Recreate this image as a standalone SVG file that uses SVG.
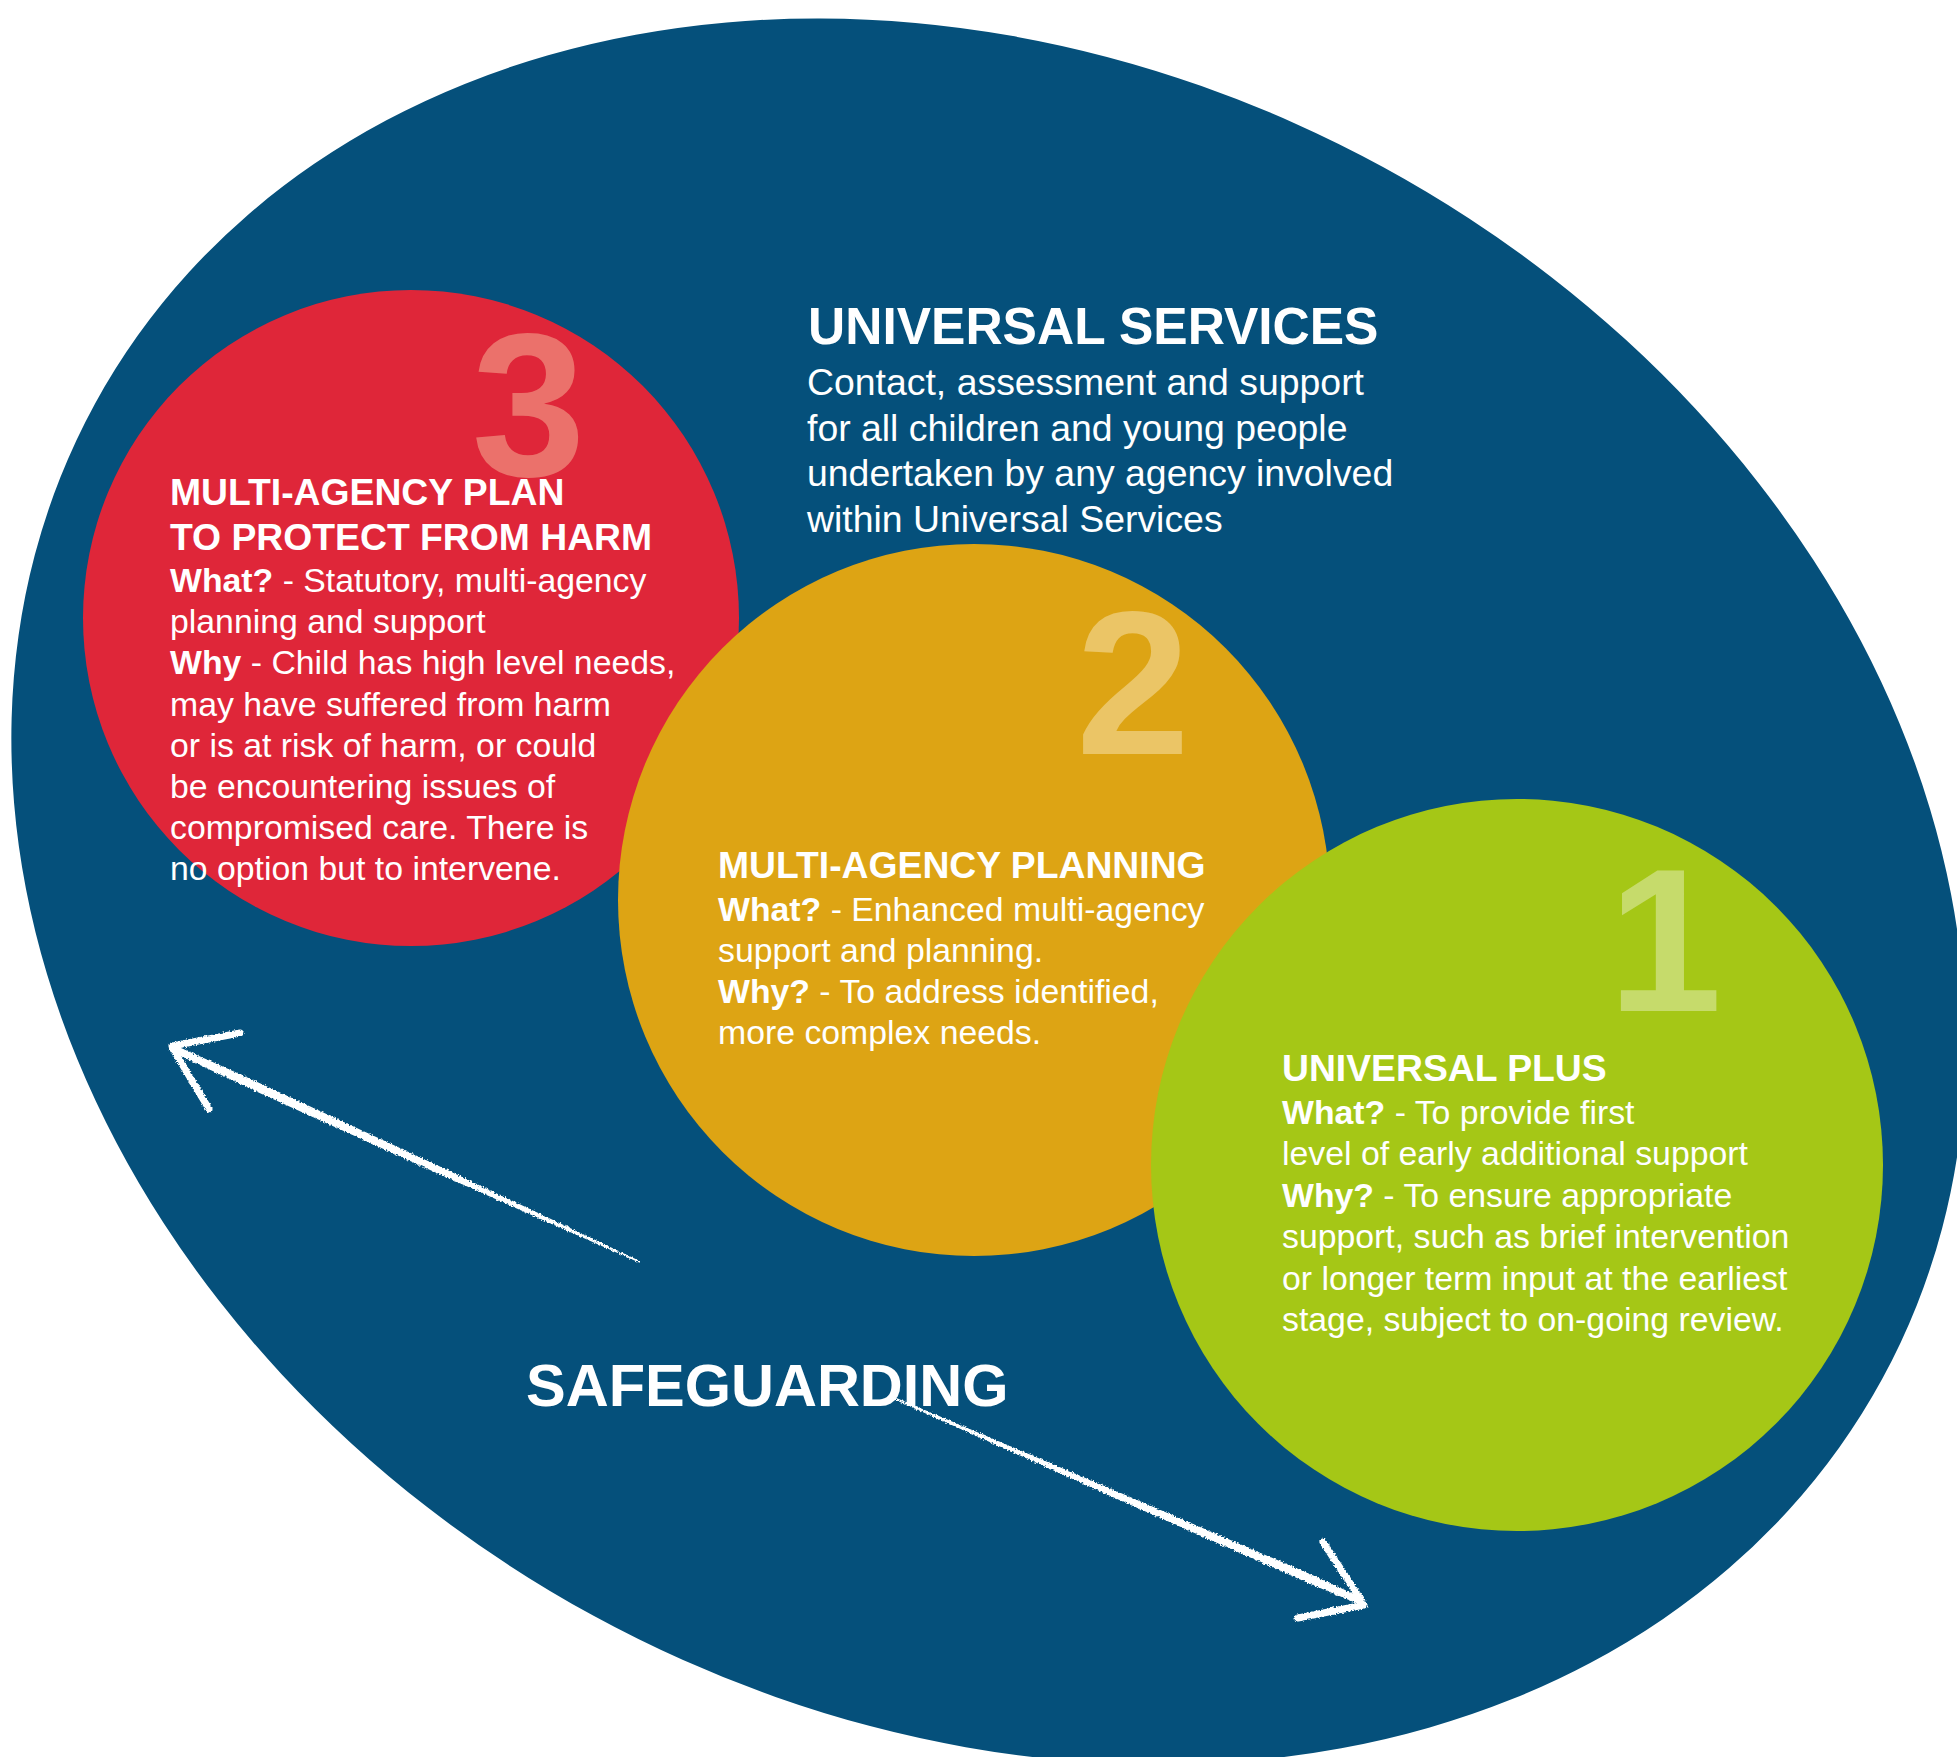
<svg xmlns="http://www.w3.org/2000/svg" width="1957" height="1757" viewBox="0 0 1957 1757">
<defs>
<style>
text { font-family: "Liberation Sans", Arial, Helvetica, sans-serif; fill: #ffffff; }
.h { font-weight: bold; font-size: 37.3px; }
.hl { font-weight: bold; font-size: 51.5px; }
.bl { font-size: 37.4px; }
.b { font-size: 33.8px; }
.k { font-weight: bold; }
.num { font-weight: bold; font-size: 205px; text-anchor: middle; }
.chalk { fill: #ffffff; filter: url(#rough); }
.barb { fill: none; stroke: #ffffff; stroke-width: 7; stroke-linecap: round; filter: url(#rough); }
</style>
<filter id="rough" x="-20%" y="-20%" width="140%" height="140%">
<feTurbulence type="fractalNoise" baseFrequency="0.55" numOctaves="2" seed="4" result="n"/>
<feDisplacementMap in="SourceGraphic" in2="n" scale="4" xChannelSelector="R" yChannelSelector="G"/>
</filter>
</defs>
<rect x="0" y="0" width="1957" height="1757" fill="#ffffff"/>

<g id="universal-services">
<ellipse cx="988.5" cy="891.5" rx="1018" ry="825" transform="rotate(28.6 988.5 891.5)" fill="#05507B"/>
<text class="hl" x="808" y="343.5">UNIVERSAL SERVICES</text>
<text class="bl" x="807" y="395">Contact, assessment and support</text>
<text class="bl" x="807" y="440.5">for all children and young people</text>
<text class="bl" x="807" y="486">undertaken by any agency involved</text>
<text class="bl" x="807" y="531.5">within Universal Services</text>
</g>

<g id="level-3">
<circle cx="411" cy="618" r="328" fill="#DF2639"/>
<text class="num" x="528.5" y="476" style="fill:#EB716B">3</text>
<text class="h" x="170" y="505">MULTI-AGENCY PLAN</text>
<text class="h" x="170" y="550">TO PROTECT FROM HARM</text>
<text class="b" x="170" y="592"><tspan class="k">What?</tspan> - Statutory, multi-agency</text>
<text class="b" x="170" y="633.2">planning and support</text>
<text class="b" x="170" y="674.4"><tspan class="k">Why</tspan> - Child has high level needs,</text>
<text class="b" x="170" y="715.6">may have suffered from harm</text>
<text class="b" x="170" y="756.8">or is at risk of harm, or could</text>
<text class="b" x="170" y="798">be encountering issues of</text>
<text class="b" x="170" y="839.2">compromised care. There is</text>
<text class="b" x="170" y="880.4">no option but to intervene.</text>
</g>

<g id="level-2">
<circle cx="974" cy="900" r="356" fill="#DDA414"/>
<text class="num" x="1133" y="754" style="fill:#EBC566">2</text>
<text class="h" x="718" y="878">MULTI-AGENCY PLANNING</text>
<text class="b" x="718" y="920.5"><tspan class="k">What?</tspan> - Enhanced multi-agency</text>
<text class="b" x="718" y="961.5">support and planning.</text>
<text class="b" x="718" y="1002.5"><tspan class="k">Why?</tspan> - To address identified,</text>
<text class="b" x="718" y="1043.5">more complex needs.</text>
</g>

<g id="level-1">
<circle cx="1517" cy="1165" r="366" fill="#A5C716"/>
<text class="num" x="1665" y="1011" style="fill:#C6DB6B">1</text>
<text class="h" x="1282" y="1081">UNIVERSAL PLUS</text>
<text class="b" x="1282" y="1123.5"><tspan class="k">What?</tspan> - To provide first</text>
<text class="b" x="1282" y="1165">level of early additional support</text>
<text class="b" x="1282" y="1206.5"><tspan class="k">Why?</tspan> - To ensure appropriate</text>
<text class="b" x="1282" y="1248">support, such as brief intervention</text>
<text class="b" x="1282" y="1289.5">or longer term input at the earliest</text>
<text class="b" x="1282" y="1331">stage, subject to on-going review.</text>
</g>

<g id="connectors">
<g id="arrow-to-level-3">
<polygon class="chalk" points="168.5,1050.2 259,1092.7 441.2,1175 639.7,1262.7 640.3,1261.3 444.2,1168.6 262.8,1084.5 171.5,1043.8"/>
<path class="barb" d="M172,1046 L240,1033 M173,1049 L209,1109"/>
</g>
<g id="arrow-to-level-1">
<polygon class="chalk" points="895.6,1399.9 1123.9,1501.9 1306.9,1582.5 1361.6,1605.2 1364.4,1598.8 1310.5,1574.3 1126.7,1495.5 896.4,1398.1"/>
<path class="barb" d="M1361,1600 L1323,1542 M1364,1605 L1298,1618"/>
</g>
</g>

<g id="safeguarding-label">
<text x="526" y="1405.5" style="font-weight:bold;font-size:59.5px">SAFEGUARDING</text>
</g>
</svg>
